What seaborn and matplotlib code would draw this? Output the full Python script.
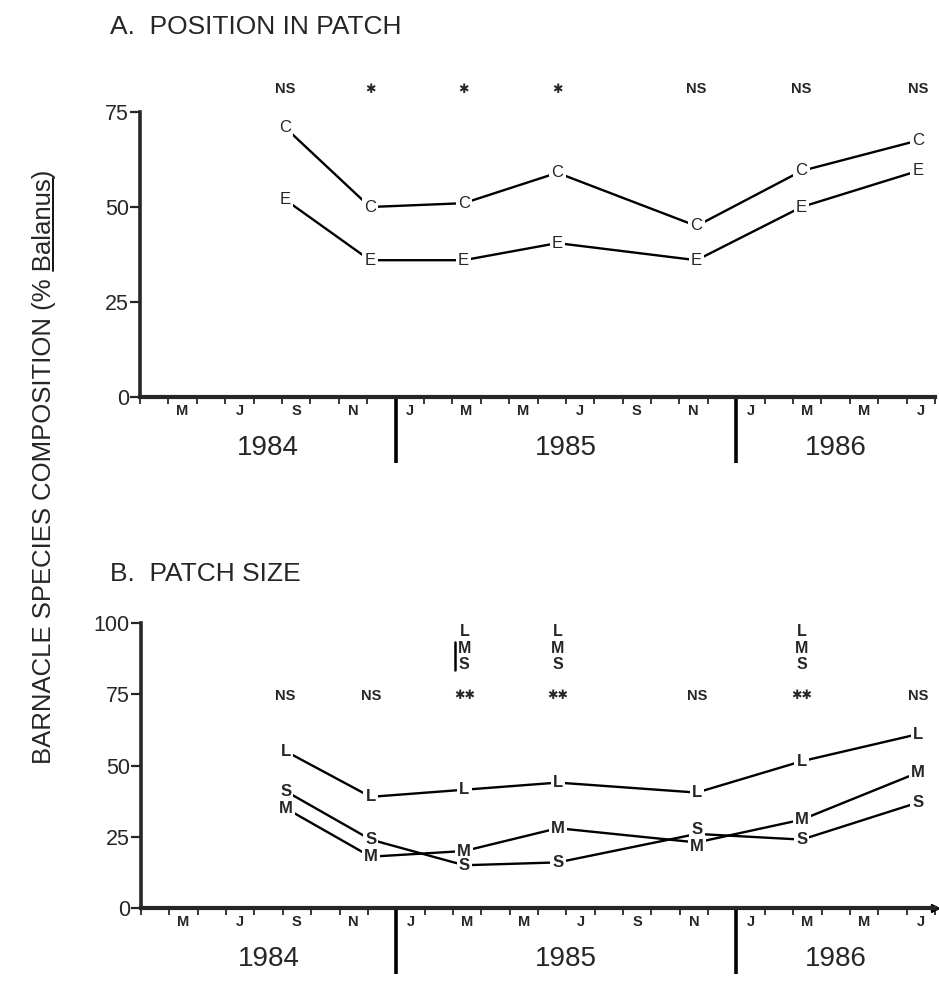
import numpy as np
import pandas as pd
import matplotlib
matplotlib.use("Agg")
import matplotlib.pyplot as plt
import matplotlib.transforms as mtransforms
from matplotlib.lines import Line2D
import seaborn as sns

# ---------------- data ----------------
# sample dates in months since 1 Jan 1984
dates = [8.1, 11.1, 14.4, 17.7, 22.6, 26.3, 30.4]
pos_C = [71, 50, 51, 59, 45, 59.5, 67.5]
pos_E = [52, 36, 36, 40.5, 36, 50, 59.5]
size_L = [55, 39, 41.5, 44, 40.5, 51.5, 61]
size_M = [35, 18, 20, 28, 23, 31, 47.5]
size_S = [41, 24, 15, 16, 26, 24, 37]
sig_A = ["NS", "✱", "✱", "✱", "NS", "NS", "NS"]
sig_B = ["NS", "NS", "✱✱", "✱✱", "NS", "✱✱", "NS"]
lms_idx = [2, 3, 5]
month_starts = [4, 6, 8, 10, 12, 14, 16, 18, 20, 22, 24, 26, 28, 30]
month_labels = ["M", "J", "S", "N", "J", "M", "M", "J", "S", "N", "J", "M", "M", "J"]
years = ["1984", "1985", "1986"]
year_bounds = [3, 12, 24, 31]

sns.set_style("ticks")
plt.rcParams["font.family"] = ["Liberation Sans", "DejaVu Sans"]

fig = plt.figure(figsize=(9.39, 9.84), dpi=100)
axA = fig.add_axes([140 / 939, 1 - 397 / 984, 795 / 939, 285 / 984])
axB = fig.add_axes([141 / 939, 1 - 908 / 984, 794 / 939, 285 / 984])

dfA = pd.DataFrame({"date": dates * 2, "value": pos_C + pos_E,
                    "grp": ["C"] * 7 + ["E"] * 7})
dfB = pd.DataFrame({"date": dates * 3, "value": size_L + size_M + size_S,
                    "grp": ["L"] * 7 + ["M"] * 7 + ["S"] * 7})

sns.lineplot(data=dfA, x="date", y="value", hue="grp", palette={"C": "black", "E": "black"},
             linewidth=1.7, legend=False, ax=axA, zorder=2)
sns.lineplot(data=dfB, x="date", y="value", hue="grp",
             palette={"L": "black", "M": "black", "S": "black"},
             linewidth=1.7, legend=False, ax=axB, zorder=2)

box = dict(facecolor="white", edgecolor="none", pad=1.6)


def letters(ax, ys, letter, weight, offsets=None):
    for i, (x, y) in enumerate(zip(dates, ys)):
        dy = 0 if offsets is None else offsets.get(i, 0)
        ax.annotate(letter, (x, y), xytext=(0, dy), textcoords="offset points",
                    ha="center", va="center", fontsize=12, fontweight=weight,
                    bbox=box, zorder=5)


letters(axA, pos_C, "C", "normal")
letters(axA, pos_E, "E", "normal")
letters(axB, size_L, "L", "bold")
letters(axB, size_M, "M", "bold", {4: -3})
letters(axB, size_S, "S", "bold", {4: 3})

# significance labels
for x, s in zip(dates, sig_A):
    star = "✱" in s
    axA.text(x, 81, s, ha="center", va="center", fontsize=9 if star else 10.5,
             fontweight="bold", family=["DejaVu Sans"] if star else ["Liberation Sans"],
             clip_on=False)
for x, s in zip(dates, sig_B):
    star = "✱" in s
    axB.text(x, 74.5, s, ha="center", va="center", fontsize=9 if star else 10.5,
             fontweight="bold", family=["DejaVu Sans"] if star else ["Liberation Sans"])
for i in lms_idx:
    for lab, yv in zip(["L", "M", "S"], [97, 91.2, 85.4]):
        axB.text(dates[i], yv, lab, ha="center", va="center", fontsize=11.5,
                 fontweight="bold", clip_on=False)
bar_tr = axB.transData + mtransforms.ScaledTranslation(-9 / 100, 0, fig.dpi_scale_trans)
axB.plot([dates[lms_idx[0]]] * 2, [83.5, 93.5], color="black", lw=1.8, transform=bar_tr)

# axes styling
for ax, ymax, yt in [(axA, 75, [0, 25, 50, 75]), (axB, 100, [0, 25, 50, 75, 100])]:
    ax.set_xlim(3, 31)
    ax.set_ylim(0, ymax)
    ax.set_yticks(yt)
    ax.set_yticklabels([str(v) for v in yt], fontsize=15.5)
    ax.tick_params(axis="y", direction="out", length=7, width=1.6, pad=1)
    ax.set_xticks([m + 0.5 for m in month_starts])
    ax.set_xticklabels(month_labels, fontsize=10.5, fontweight="bold")
    ax.tick_params(axis="x", which="major", length=0, pad=5)
    ax.set_xticks(np.arange(3, 32), minor=True)
    ax.tick_params(axis="x", which="minor", direction="out", length=5, width=1.3)
    ax.spines["top"].set_visible(False)
    ax.spines["right"].set_visible(False)
    ax.spines["left"].set_linewidth(2.6)
    ax.spines["bottom"].set_linewidth(3.0)
    ax.set_xlabel("")
    ax.set_ylabel("")
    tr = mtransforms.blended_transform_factory(ax.transData, ax.transAxes)
    for k, yr in enumerate(years):
        ax.text((year_bounds[k] + year_bounds[k + 1]) / 2, -51 / 285, yr,
                transform=tr, ha="center", va="center", fontsize=20)
    for xb in year_bounds[1:3]:
        ax.plot([xb, xb], [0, -66 / 285], transform=tr, color="black", lw=2.6,
                clip_on=False, solid_capstyle="butt")

axB.plot(1, 0, marker=">", color="black", markersize=6, transform=axB.transAxes,
         clip_on=False)

fig.text(110 / 939, 1 - 27 / 984, "A.  POSITION IN PATCH", fontsize=19, va="center")
fig.text(110 / 939, 1 - 574 / 984, "B.  PATCH SIZE", fontsize=19, va="center")

ylab = "BARNACLE SPECIES COMPOSITION (% Balanus)"
yl = fig.text(44 / 939, 1 - 467 / 984, ylab, rotation=90, fontsize=18.5,
              ha="center", va="center")

# underline "Balanus"
fig.canvas.draw()
r = fig.canvas.get_renderer()
bb = yl.get_window_extent(r)
tmp = fig.text(0, 0, ylab, fontsize=18.5)
W = tmp.get_window_extent(r).width
tmp.set_text("Balanus)")
wb = tmp.get_window_extent(r).width
tmp.set_text(")")
wp = tmp.get_window_extent(r).width
tmp.remove()
y0 = bb.y0 + (W - wb)
y1 = bb.y0 + (W - wp)
xline = bb.x1 - 3
inv = fig.transFigure.inverted()
(fx0, fy0), (fx1, fy1) = inv.transform([(xline, y0), (xline, y1)])
fig.add_artist(Line2D([fx0, fx1], [fy0, fy1], color="black", lw=1.3,
                      transform=fig.transFigure))

fig.savefig("out.png", dpi=100)
